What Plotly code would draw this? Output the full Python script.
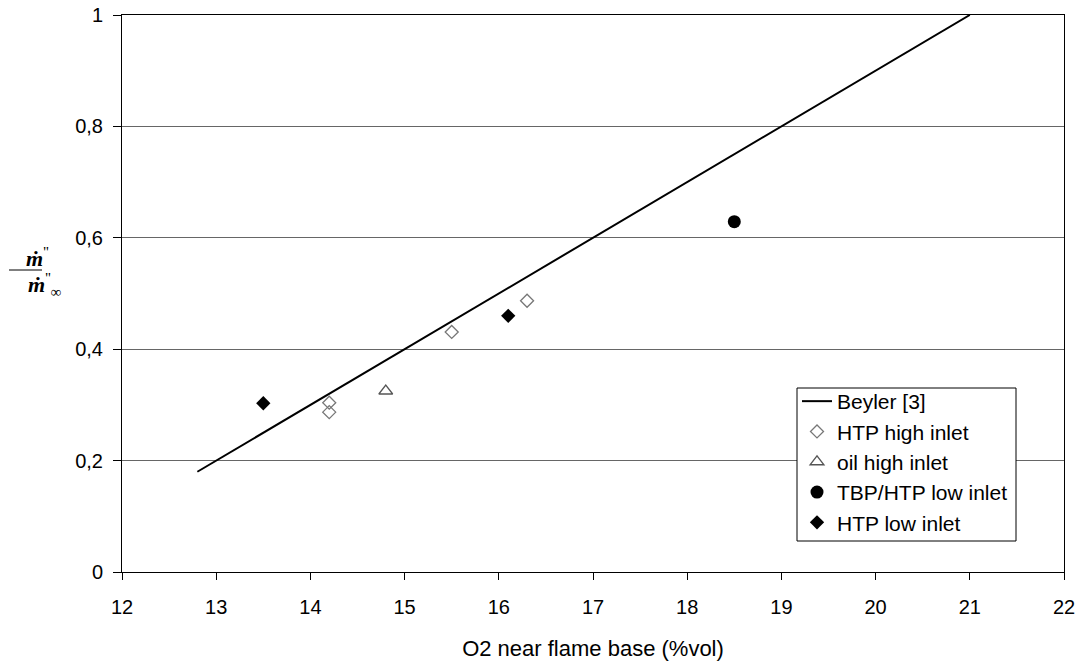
import plotly.graph_objects as go

# Beyler correlation (straight line in O2 concentration)
beyler_o2 = [12.8, 21.0]
beyler_ratio = [0.18, 1.0]

# Measured burning-rate ratios
htp_high_o2 = [14.2, 14.2, 15.5, 16.3]
htp_high_ratio = [0.304, 0.287, 0.431, 0.487]

oil_high_o2 = [14.8]
oil_high_ratio = [0.325]

tbp_low_o2 = [18.5]
tbp_low_ratio = [0.629]

htp_low_o2 = [13.5, 16.1]
htp_low_ratio = [0.303, 0.460]

x_ticks = list(range(12, 23))
y_ticks = [0, 0.2, 0.4, 0.6, 0.8, 1.0]
y_tick_text = ["0", "0,2", "0,4", "0,6", "0,8", "1"]

FONT = "Liberation Sans, Arial, sans-serif"
SERIF = "Liberation Serif, Times New Roman, serif"

fig = go.Figure()
fig.add_trace(go.Scatter(
    x=beyler_o2, y=beyler_ratio, mode="lines", name="Beyler [3]",
    line=dict(color="black", width=2)))
fig.add_trace(go.Scatter(
    x=htp_high_o2, y=htp_high_ratio, mode="markers", name="HTP high inlet",
    marker=dict(symbol="diamond-open", size=10, color="#777777",
                line=dict(width=1.3, color="#777777"))))
fig.add_trace(go.Scatter(
    x=oil_high_o2, y=oil_high_ratio, mode="markers", name="oil high inlet",
    marker=dict(symbol="triangle-up-open", size=12, color="#555555",
                line=dict(width=1.3, color="#555555"))))
fig.add_trace(go.Scatter(
    x=tbp_low_o2, y=tbp_low_ratio, mode="markers", name="TBP/HTP low inlet",
    marker=dict(symbol="circle", size=13, color="black")))
fig.add_trace(go.Scatter(
    x=htp_low_o2, y=htp_low_ratio, mode="markers", name="HTP low inlet",
    marker=dict(symbol="diamond", size=11, color="black")))

L, R, T, B = 122, 16, 15, 89
W, H = 1080, 661
pw, ph = W - L - R, H - T - B


def px(xp):
    return (xp - L) / pw


def py(yp):
    return (H - B - yp) / ph


annotations = [
    dict(text="<i><b>ṁ</b></i><sup>''</sup>", x=px(24), y=py(257), xref="paper", yref="paper",
         showarrow=False, font=dict(family=SERIF, size=22, color="black")),
    dict(text="<i><b>ṁ</b></i><sup>''</sup><sub>∞</sub>", x=px(26), y=py(284), xref="paper", yref="paper",
         showarrow=False, font=dict(family=SERIF, size=22, color="black")),
]

shapes = [
    # fraction bar of the y-axis label
    dict(type="line", xref="paper", yref="paper", x0=px(9), x1=px(42), y0=py(270), y1=py(270),
         line=dict(color="black", width=1)),
    # legend frame (white box over the grid)
    dict(type="rect", xref="paper", yref="paper", layer="above",
         x0=px(797), x1=px(1016), y0=py(541), y1=py(388),
         fillcolor="white", line=dict(color="black", width=1)),
]

fig.update_layout(
    width=W, height=H,
    margin=dict(l=L, r=R, t=T, b=B, autoexpand=False),
    paper_bgcolor="white", plot_bgcolor="white",
    font=dict(family=FONT, size=20, color="black"),
    showlegend=True,
    legend=dict(x=px(797), y=py(381), xanchor="left", yanchor="top",
                bgcolor="rgba(0,0,0,0)", borderwidth=0,
                font=dict(family=FONT, size=21, color="black"),
                tracegroupgap=0, itemwidth=30),
    annotations=annotations,
    shapes=shapes,
)

fig.update_xaxes(
    range=[12, 22], tickvals=x_ticks, ticktext=[str(v) for v in x_ticks],
    showline=True, linecolor="black", linewidth=1, mirror=True,
    ticks="outside", ticklen=7, tickcolor="black",
    showgrid=False, zeroline=False, automargin=False,
    title=dict(text="O2 near flame base (%vol)", standoff=24,
               font=dict(family=FONT, size=22, color="black")),
    tickfont=dict(family=FONT, size=20, color="black"),
    ticklabelstandoff=10,
)
fig.update_yaxes(
    range=[0, 1], tickvals=y_ticks, ticktext=y_tick_text,
    showline=True, linecolor="black", linewidth=1, mirror=True,
    ticks="outside", ticklen=8, tickcolor="black",
    showgrid=True, gridcolor="#666666", gridwidth=1, zeroline=False, automargin=False,
    tickfont=dict(family=FONT, size=20, color="black"),
    ticklabelstandoff=6,
)

fig.write_html("out.html")
